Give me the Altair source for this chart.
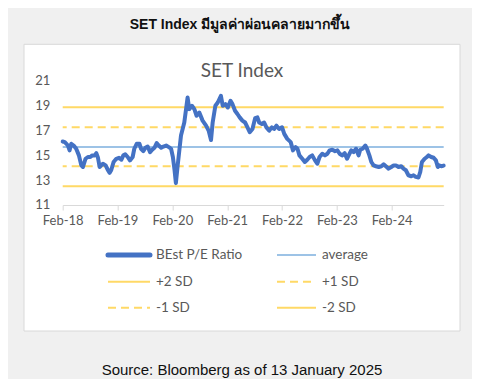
import altair as alt
import pandas as pd

# ---------------- data ----------------
DATES = [
    "2018-02-01", "2018-02-15", "2018-03-08", "2018-03-19", "2018-03-30", "2018-04-15",
    "2018-05-02", "2018-05-20", "2018-06-05", "2018-06-16", "2018-07-03", "2018-07-19",
    "2018-08-04", "2018-08-17", "2018-09-02", "2018-09-13", "2018-09-24", "2018-10-05",
    "2018-10-16", "2018-10-27", "2018-11-14", "2018-11-30", "2018-12-10", "2018-12-21",
    "2019-01-06", "2019-01-24", "2019-02-11", "2019-02-27", "2019-03-12", "2019-03-25",
    "2019-04-10", "2019-04-25", "2019-05-13", "2019-05-24", "2019-06-09", "2019-06-27",
    "2019-07-08", "2019-07-23", "2019-08-06", "2019-08-21", "2019-09-06", "2019-09-20",
    "2019-10-05", "2019-10-20", "2019-11-03", "2019-11-19", "2019-12-04", "2019-12-22",
    "2020-01-09", "2020-01-24", "2020-02-05", "2020-02-16", "2020-02-25", "2020-03-08",
    "2020-03-30", "2020-04-21", "2020-05-13", "2020-05-24", "2020-06-11", "2020-06-27",
    "2020-07-12", "2020-07-30", "2020-08-21", "2020-09-13", "2020-09-30", "2020-10-16",
    "2020-10-27", "2020-11-14", "2020-11-30", "2020-12-21", "2021-01-02", "2021-01-20",
    "2021-02-05", "2021-02-23", "2021-03-08", "2021-03-25", "2021-04-10", "2021-04-25",
    "2021-05-13", "2021-05-31", "2021-06-16", "2021-07-01", "2021-07-19", "2021-08-06",
    "2021-08-21", "2021-09-02", "2021-09-20", "2021-10-05", "2021-10-20", "2021-11-08",
    "2021-11-25", "2021-12-10", "2021-12-26", "2022-01-13", "2022-02-01", "2022-02-16",
    "2022-03-08", "2022-03-31", "2022-04-15", "2022-05-02", "2022-05-15", "2022-05-28",
    "2022-06-16", "2022-07-03", "2022-07-19", "2022-08-04", "2022-08-21", "2022-09-09",
    "2022-09-24", "2022-10-09", "2022-10-27", "2022-11-14", "2022-11-30", "2022-12-15",
    "2023-01-02", "2023-01-20", "2023-02-05", "2023-02-20", "2023-03-08", "2023-03-25",
    "2023-04-10", "2023-04-21", "2023-05-08", "2023-05-24", "2023-06-09", "2023-06-26",
    "2023-07-07", "2023-07-23", "2023-08-10", "2023-08-21", "2023-09-06", "2023-09-19",
    "2023-10-04", "2023-10-20", "2023-11-07", "2023-11-25", "2023-12-10", "2023-12-25",
    "2024-01-12", "2024-01-30", "2024-02-15", "2024-03-01", "2024-03-18", "2024-04-05",
    "2024-04-20", "2024-05-06", "2024-05-23", "2024-06-11", "2024-06-26", "2024-07-11",
    "2024-07-29", "2024-08-10", "2024-08-21", "2024-09-08", "2024-09-23", "2024-10-04",
    "2024-10-22", "2024-11-07", "2024-11-22", "2024-12-05", "2024-12-14", "2024-12-28",
    "2025-01-13",
]
PE = [
    16.08, 16.03, 15.76, 15.37, 15.90, 15.76,
    15.50, 14.97, 14.17, 14.04, 14.70, 14.84,
    14.84, 14.97, 14.97, 15.15, 14.78, 14.04,
    14.17, 14.30, 14.17, 13.78, 13.57, 13.78,
    14.44, 14.70, 14.78, 14.62, 14.97, 15.05,
    14.84, 14.57, 14.84, 15.50, 15.90, 15.90,
    15.50, 15.31, 15.58, 15.68, 15.23, 15.42,
    15.58, 15.95, 15.76, 15.58, 15.68, 15.76,
    15.63, 15.50, 14.84, 13.80, 12.75, 14.17,
    16.56, 17.60, 19.60, 18.67, 18.94, 18.67,
    18.14, 18.40, 17.75, 17.35, 16.95, 16.20,
    17.60, 18.94, 19.20, 19.73, 18.94, 19.07,
    18.80, 19.33, 19.07, 18.54, 18.28, 18.01,
    17.75, 17.60, 17.21, 16.82, 17.08, 17.95,
    18.01, 17.60, 17.48, 17.60, 17.21, 16.95,
    17.21, 17.08, 17.35, 17.08, 17.22, 16.69,
    16.29, 16.03, 15.37, 15.63, 15.50, 14.97,
    14.70, 14.44, 14.62, 14.84, 14.97, 14.57,
    14.30, 14.84, 15.10, 14.97, 15.10, 15.37,
    15.42, 15.31, 15.37, 15.10, 14.97, 15.15,
    14.70, 14.97, 15.37, 15.23, 15.50, 14.97,
    15.42, 15.50, 15.76, 15.50, 14.97, 14.44,
    14.17, 14.10, 14.04, 14.10, 14.25, 14.10,
    13.91, 14.04, 14.17, 14.17, 14.04, 14.10,
    13.91, 13.78, 13.38, 13.30, 13.38, 13.25,
    13.20, 13.65, 14.44, 14.70, 14.84, 14.97,
    14.84, 14.78, 14.57, 14.04, 14.17, 14.10,
    14.15,
]
SERIES = ["BEst P/E Ratio", "average", "+2 SD", "+1 SD", "-1 SD", "-2 SD"]
LEVEL_NAMES = ["average", "+2 SD", "+1 SD", "-1 SD", "-2 SD"]
LEVEL_VALUES = [15.64, 18.82, 17.23, 14.10, 12.50]
Y_TICKS = [11, 13, 15, 17, 19, 21]
TICK_YEARS = [2018, 2019, 2020, 2021, 2022, 2023, 2024]

# ---------------- styles ----------------
COLORS = {"BEst P/E Ratio": "#4472C4", "average": "#9DC3E6",
          "+2 SD": "#FFD966", "+1 SD": "#FFD966", "-1 SD": "#FFD966", "-2 SD": "#FFD966"}
DASHES = {"BEst P/E Ratio": [1, 0], "average": [1, 0],
          "+2 SD": [1, 0], "+1 SD": [8, 5], "-1 SD": [8, 5], "-2 SD": [1, 0]}
WIDTHS = {"BEst P/E Ratio": 5, "average": 2,
          "+2 SD": 2, "+1 SD": 2, "-1 SD": 2, "-2 SD": 2}
GREY = "#595959"
FONT = "Lato"

W, H = 381, 125

pe_df = pd.DataFrame({"date": DATES, "pe": PE})
lvl_df = pd.DataFrame({"series": LEVEL_NAMES, "value": LEVEL_VALUES})
one = pd.DataFrame({"k": [0]})

x_scale = alt.Scale(domain=[alt.DateTime(year=2018, month=2, date=1),
                            alt.DateTime(year=2025, month=1, date=13)])
y_scale = alt.Scale(domain=[11, 21])

x_axis = alt.Axis(values=[alt.DateTime(year=y, month=2, date=1) for y in TICK_YEARS],
                  format="%b-%y", title=None, grid=False, domainColor="#d9d9d9",
                  tickColor="#d9d9d9", tickSize=5, labelPadding=5, labelFont=FONT,
                  labelFontSize=13, labelColor=GREY, zindex=1, labelFlush=False)
y_axis = alt.Axis(values=Y_TICKS, title=None, grid=False, domain=False, ticks=False,
                  labelPadding=13, labelFont=FONT, labelFontSize=13, labelColor=GREY, zindex=1)

panel = alt.Chart(one).mark_rect(fill="white", stroke="#d9d9d9", strokeWidth=1).encode(
    x=alt.value(-38.7), x2=alt.value(397.3), y=alt.value(-35.7), y2=alt.value(251)
)

levels = alt.Chart(lvl_df).mark_rule(strokeWidth=2).encode(
    y=alt.Y("value:Q", scale=y_scale, axis=y_axis),
    color=alt.Color("series:N", scale=alt.Scale(domain=LEVEL_NAMES,
                    range=[COLORS[n] for n in LEVEL_NAMES]), legend=None),
    strokeDash=alt.StrokeDash("series:N", scale=alt.Scale(domain=LEVEL_NAMES,
                              range=[DASHES[n] for n in LEVEL_NAMES]), legend=None),
)

line = alt.Chart(pe_df).mark_line(color=COLORS["BEst P/E Ratio"], strokeWidth=4,
                                  strokeJoin="round", strokeCap="round").encode(
    x=alt.X("date:T", scale=x_scale, axis=x_axis),
    y=alt.Y("pe:Q", scale=y_scale, axis=y_axis),
)

texts = [
    alt.Chart(one).mark_text(text="SET Index มีมูลค่าผ่อนคลายมากขึ้น", font="Liberation Sans",
                             fontSize=14, fontWeight="bold", color="#111111",
                             align="center", baseline="alphabetic").encode(
        x=alt.value(177.3), y=alt.value(-50.7)),
    alt.Chart(one).mark_text(text="SET Index", font=FONT, fontSize=19, color=GREY,
                             align="center", baseline="alphabetic").encode(
        x=alt.value(179.3), y=alt.value(-3.3)),
    alt.Chart(one).mark_text(text="Source: Bloomberg as of 13 January 2025",
                             font="Liberation Sans", fontSize=15, color="#111111",
                             align="center", baseline="alphabetic").encode(
        x=alt.value(179.3), y=alt.value(295)),
]

LEG_X = [45.3, 214.3]
LEG_LEN = [42, 39]
LEG_Y = [175, 201.7, 227.7]
legend_layers = []
for i, name in enumerate(SERIES):
    c, r = i % 2, i // 2
    x0 = LEG_X[c]
    yy = LEG_Y[r]
    legend_layers.append(
        alt.Chart(one).mark_rule(color=COLORS[name], strokeWidth=WIDTHS[name],
                                 strokeDash=DASHES[name],
                                 strokeCap="round" if i == 0 else "butt").encode(
            x=alt.value(x0), x2=alt.value(x0 + LEG_LEN[c]), y=alt.value(yy))
    )
    legend_layers.append(
        alt.Chart(one).mark_text(text=name, font=FONT, fontSize=13.5, color=GREY,
                                 align="left", baseline="middle").encode(
            x=alt.value(x0 + LEG_LEN[c] + 6), y=alt.value(yy))
    )

chart = alt.layer(panel, levels, line, *texts, *legend_layers).properties(
    width=W, height=H,
    background="#f0f0f0",
    padding={"left": 54.7, "top": 72, "right": 28, "bottom": 174},
    autosize=alt.AutoSizeParams(type="none"),
).configure_view(stroke=None)

chart.save("out.html", embed_options={"renderer": "svg", "actions": False})
